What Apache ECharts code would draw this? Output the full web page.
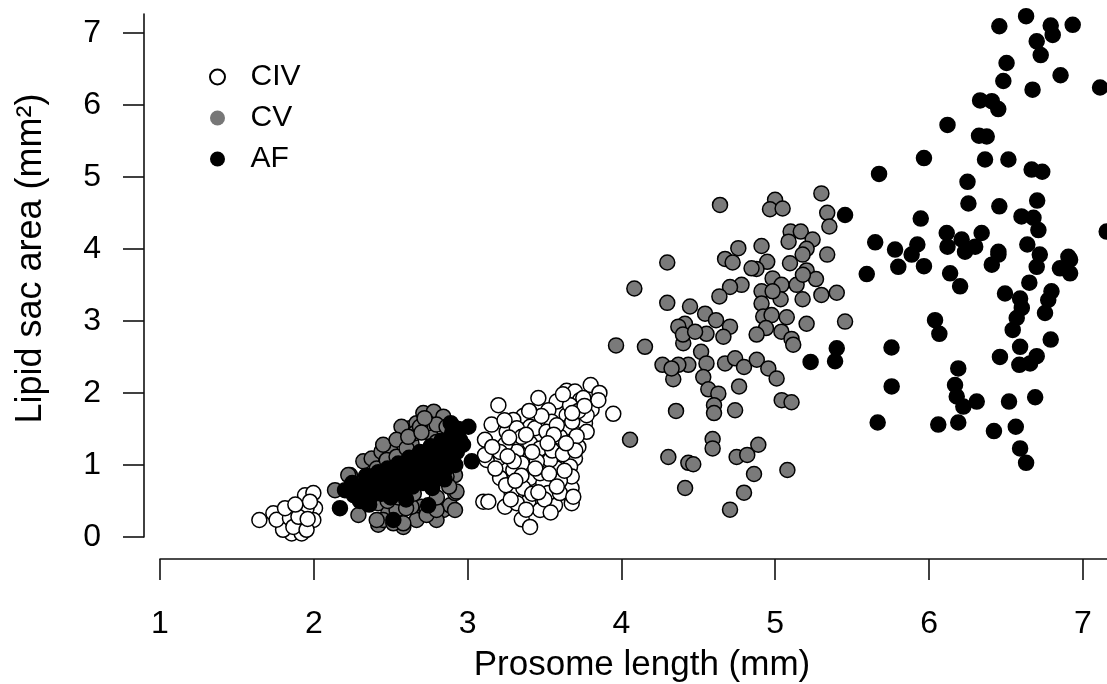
<!DOCTYPE html>
<html>
<head>
<meta charset="utf-8">
<script src="https://cdn.jsdelivr.net/npm/echarts@6/dist/echarts.min.js"></script>
<style>
html,body{margin:0;padding:0;background:#fff;}
#chart{width:1107px;height:684px;}
</style>
</head>
<body>
<div id="chart"></div>
<script>
// ---- data (prosome length mm, lipid sac area mm^2) ----
const xTicks = [1, 2, 3, 4, 5, 6, 7];
const yTicks = [0, 1, 2, 3, 4, 5, 6, 7];
const seriesNames = ['CIV', 'CV', 'AF'];

const civData = [
  // small CIV cluster
  [1.646,0.236],[1.737,0.33],[1.791,0.21],[1.824,0.33],[1.867,0.365],[1.943,0.58],[1.997,0.61],[2.008,0.40],
  [1.997,0.236],[1.921,0.19],[1.856,0.05],[1.921,0.05],[1.80,0.10],[1.758,0.24],[1.921,0.35],[1.953,0.40],
  [1.845,0.26],[1.867,0.14],[1.953,0.10],[1.975,0.49],[1.813,0.40],[1.90,0.28],[1.88,0.45],[1.96,0.25],
  // large CIV cluster
  [3.947,1.71],[3.644,2.03],[3.698,2.02],[3.80,2.11],[3.857,2.0],[3.806,1.77],[3.731,1.90],[3.46,1.93],
  [3.579,1.88],[3.20,1.83],[3.525,1.76],[3.644,1.69],[3.763,1.58],[3.362,1.68],[3.297,1.625],[3.156,1.56],
  [3.633,1.51],[3.547,1.60],[3.254,1.46],[3.406,1.53],[3.471,1.35],[3.579,1.30],[3.406,1.30],[3.72,1.25],
  [3.113,1.35],[3.319,1.185],[3.243,1.28],[3.20,1.09],[3.124,1.07],[3.406,1.09],[3.503,1.12],[3.698,1.09],
  [3.666,0.98],[3.579,0.95],[3.297,0.93],[3.406,0.82],[3.211,0.82],[3.492,0.745],[3.676,0.68],[3.286,0.61],
  [3.395,0.49],[3.677,0.47],[3.102,0.49],[3.568,0.44],[3.352,0.245],[3.406,0.14],[3.471,0.375],[3.362,0.68],
  [3.243,0.42],[3.525,0.61],[3.60,0.61],[3.32,1.51],[3.774,1.46],[3.709,1.40],[3.471,1.23],[3.536,1.07],
  [3.352,1.02],[3.211,1.18],[3.113,1.14],[3.677,0.84],[3.471,0.885],[3.687,0.56],[3.32,0.47],[3.438,1.51],
  [3.752,1.93],[3.666,1.83],[3.774,1.69],[3.60,1.39],[3.513,1.46],[3.352,1.39],[3.55,1.20],[3.62,1.15],
  [3.45,1.05],[3.30,1.05],[3.25,0.72],[3.42,0.60],[3.50,0.52],[3.60,0.78],[3.38,1.42],[3.48,1.68],
  [3.58,1.55],[3.68,1.60],[3.72,1.75],[3.85,1.90],[3.62,1.98],[3.135,0.49],[3.16,1.25],[3.27,1.38],
  [3.18,0.95],[3.26,1.12],[3.35,0.85],[3.44,0.95],[3.53,0.88],[3.63,0.92],[3.70,1.20],[3.56,1.42],
  [3.42,1.18],[3.31,0.78],[3.46,0.62],[3.58,0.70],[3.64,1.30],[3.76,1.82],[3.68,1.72],[3.52,1.30],
  [3.24,1.62],[3.40,1.75],[3.28,0.52],[3.54,0.34],[3.38,0.38]
];

const cvData = [
  // dense cluster
  [2.138,0.65],[2.235,0.86],[2.29,0.305],[2.322,1.05],[2.376,1.09],[2.44,1.185],[2.495,1.23],[2.409,0.95],
  [2.365,0.84],[2.419,0.47],[2.419,0.17],[2.484,0.33],[2.582,0.14],[2.582,1.39],[2.625,1.51],[2.668,1.58],
  [2.635,1.30],[2.712,1.72],[2.78,1.74],[2.842,1.67],[2.755,1.44],[2.70,0.42],[2.755,0.305],[2.842,0.375],
  [2.886,0.44],[2.918,0.61],[2.918,0.86],[2.668,0.236],[2.635,0.42],[2.538,0.375],[2.474,1.07],[2.538,1.115],
  [2.57,1.53],[2.744,1.58],[2.798,1.56],[2.863,1.53],[2.863,0.84],[2.451,0.236],[2.517,0.19],[2.798,0.236],
  [2.733,0.375],[2.657,1.44],[2.798,1.32],[2.842,1.185],[2.874,1.0],[2.387,0.675],[2.333,0.56],[2.311,0.745],
  [2.451,1.28],[2.538,1.35],[2.603,1.23],[2.907,1.53],[2.69,1.53],[2.614,1.39],[2.224,0.86],[2.928,0.63],
  [2.918,0.375],[2.409,0.236],[2.582,0.19],[2.733,0.305],[2.798,0.375],[2.55,0.55],[2.65,0.60],[2.80,0.55],
  [2.48,0.50],[2.88,0.70],[2.60,0.40],[2.72,1.65],[2.70,1.45],
  // spread cluster
  [4.641,4.61],[4.999,4.68],[4.966,4.55],[5.048,4.56],[5.30,4.77],[5.338,4.50],[5.352,4.31],[5.10,4.24],
  [5.166,4.24],[5.243,4.13],[5.087,4.10],[5.204,4.0],[5.178,3.92],[5.338,3.92],[4.76,4.01],[4.674,3.86],
  [4.723,3.81],[4.911,4.04],[4.948,3.82],[4.878,3.72],[4.846,3.73],[5.096,3.80],[5.204,3.70],[4.983,3.59],
  [5.041,3.50],[5.139,3.50],[5.265,3.58],[5.30,3.36],[5.40,3.39],[5.178,3.30],[5.035,3.30],[4.911,3.41],
  [4.911,3.24],[4.781,3.50],[4.706,3.47],[4.637,3.34],[4.298,3.81],[4.084,3.45],[4.298,3.25],[4.446,3.20],
  [4.544,3.10],[4.615,3.01],[4.706,2.92],[4.663,2.78],[4.553,2.82],[4.413,2.96],[4.37,2.92],[4.402,2.69],
  [4.922,3.06],[4.976,3.08],[5.075,3.05],[4.94,2.90],[5.04,2.85],[4.879,2.81],[5.106,2.75],[5.117,2.67],
  [5.204,2.96],[5.454,2.99],[4.518,2.57],[4.553,2.41],[4.435,2.39],[4.37,2.39],[4.267,2.39],[4.337,2.19],
  [4.532,2.22],[4.565,2.05],[4.63,1.99],[4.602,1.83],[4.602,1.72],[4.674,2.41],[4.739,2.48],[4.797,2.36],
  [4.88,2.46],[4.955,2.34],[5.009,2.20],[4.765,2.09],[4.739,1.76],[5.042,1.90],[5.106,1.87],[3.965,2.66],
  [4.153,2.64],[4.355,1.75],[4.056,1.35],[4.305,1.11],[4.435,1.03],[4.467,1.01],[4.593,1.36],[4.593,1.23],
  [4.749,1.11],[4.818,1.14],[4.89,1.28],[4.862,0.875],[5.079,0.93],[4.414,0.68],[4.797,0.615],[4.706,0.38],
  [4.40,2.81],[5.18,3.64],[4.983,3.41],[4.479,2.85],[4.326,2.34]
];

const afData = [
  // dense cluster
  [2.17,0.40],[2.203,0.65],[2.26,0.58],[2.25,0.75],[2.30,0.50],[2.32,0.68],[2.34,0.85],[2.37,0.56],
  [2.40,0.72],[2.42,0.90],[2.44,0.60],[2.46,0.78],[2.48,0.95],[2.50,0.55],[2.52,0.70],[2.54,0.88],
  [2.55,1.02],[2.57,0.62],[2.59,0.80],[2.61,0.96],[2.62,1.10],[2.64,0.70],[2.66,0.86],[2.68,1.02],
  [2.69,1.18],[2.71,0.75],[2.73,0.92],[2.74,1.08],[2.76,1.26],[2.77,0.68],[2.79,0.85],[2.80,1.00],
  [2.81,1.16],[2.83,1.34],[2.85,0.80],[2.86,0.95],[2.87,1.12],[2.88,1.28],[2.90,1.45],[2.92,1.00],
  [2.93,1.18],[2.95,1.35],[2.97,1.28],[3.005,1.53],[3.027,1.05],[2.517,0.236],[2.744,0.44],[2.60,0.52],
  [2.36,0.45],[2.89,1.58],[2.94,1.50],
  // spread cluster
  [6.457,7.09],[6.631,7.23],[6.791,7.10],[6.804,6.97],[6.934,7.11],[6.70,6.88],[6.726,6.69],[6.504,6.58],
  [6.483,6.33],[6.673,6.21],[6.855,6.41],[7.112,6.24],[6.332,6.06],[6.408,6.05],[6.45,5.94],[6.12,5.72],
  [6.325,5.57],[6.375,5.56],[5.967,5.26],[6.364,5.24],[6.516,5.24],[6.667,5.10],[6.736,5.07],[5.675,5.04],
  [6.25,4.93],[6.256,4.63],[6.457,4.59],[6.703,4.67],[5.454,4.47],[5.946,4.42],[6.601,4.45],[6.679,4.43],
  [6.711,4.26],[7.155,4.24],[5.65,4.09],[5.779,3.99],[5.924,4.06],[6.115,4.22],[6.12,4.03],[6.212,4.13],
  [6.342,4.22],[6.30,4.03],[6.451,3.96],[6.639,4.06],[6.72,3.92],[6.906,3.89],[5.80,3.75],[5.887,3.92],
  [5.967,3.76],[5.595,3.65],[6.137,3.66],[6.202,3.48],[6.234,3.96],[6.408,3.78],[6.451,3.92],[6.70,3.75],
  [6.851,3.73],[6.917,3.85],[6.917,3.66],[6.652,3.53],[6.494,3.38],[6.592,3.31],[6.603,3.18],[6.57,3.04],
  [6.544,2.875],[6.796,3.41],[6.775,3.29],[6.754,3.11],[6.791,2.74],[6.039,3.01],[6.067,2.82],[5.756,2.63],
  [5.40,2.62],[5.389,2.44],[6.461,2.50],[6.592,2.64],[6.587,2.39],[6.657,2.41],[6.70,2.51],[6.19,2.34],
  [6.169,2.11],[6.18,1.95],[6.223,1.81],[6.31,1.88],[5.757,2.09],[6.52,1.88],[6.69,1.94],[5.666,1.59],
  [6.06,1.56],[6.19,1.59],[6.422,1.47],[6.564,1.53],[6.592,1.23],[6.631,1.03],[5.23,2.43]
];

// ---- chart ----
const FONT = '"Liberation Sans", Arial, Helvetica, sans-serif';
const AXIS_COLOR = '#111';
const chart = echarts.init(document.getElementById('chart'), null, {renderer: 'canvas'});

const pointStyle = (fill) => ({color: fill, borderColor: '#000', borderWidth: 1.5, opacity: 1});

const option = {
  animation: false,
  backgroundColor: '#fff',
  textStyle: {fontFamily: FONT},
  grid: {left: 160, right: 0, top: 14, bottom: 147, containLabel: false, outerBoundsMode: 'none'},
  legend: {
    orient: 'vertical',
    left: 204,
    top: 57,
    itemWidth: 50,
    itemHeight: 15,
    itemGap: 11,
    selectedMode: false,
    textStyle: {fontSize: 30, color: '#000', fontFamily: FONT, lineHeight: 30, padding: [0, 0, 0, 3]},
    data: [
      {name: seriesNames[0], icon: 'circle', itemStyle: {color: '#fff', borderColor: '#000', borderWidth: 2}},
      {name: seriesNames[1], icon: 'circle', itemStyle: {color: '#777777', borderWidth: 0}},
      {name: seriesNames[2], icon: 'circle', itemStyle: {color: '#000', borderWidth: 0}}
    ]
  },
  xAxis: {
    type: 'value',
    min: 1,
    max: 7.157,
    interval: 1,
    position: 'bottom',
    offset: 22,
    axisLine: {show: true, onZero: false, lineStyle: {color: AXIS_COLOR, width: 1.6}},
    axisTick: {show: true, length: 21, customValues: xTicks, lineStyle: {color: AXIS_COLOR, width: 1.6}},
    axisLabel: {customValues: xTicks, margin: 49, fontSize: 32, color: '#000', fontFamily: FONT},
    splitLine: {show: false},
    name: 'Prosome length (mm)',
    nameLocation: 'middle',
    nameGap: 89,
    nameTextStyle: {fontSize: 35, color: '#000', fontFamily: FONT, padding: [0, 0, 0, 17]}
  },
  yAxis: {
    type: 'value',
    min: 0,
    max: 7.26,
    interval: 1,
    position: 'left',
    offset: 16,
    axisLine: {show: true, onZero: false, lineStyle: {color: AXIS_COLOR, width: 1.6}},
    axisTick: {show: true, length: 21, customValues: yTicks, lineStyle: {color: AXIS_COLOR, width: 1.6}},
    axisLabel: {customValues: yTicks, margin: 43, fontSize: 32, color: '#000', fontFamily: FONT},
    splitLine: {show: false},
    name: 'Lipid sac area (mm²)',
    nameLocation: 'middle',
    nameGap: 95,
    nameTextStyle: {fontSize: 36, color: '#000', fontFamily: FONT, padding: [0, 0, 0, 34]}
  },
  series: [
    {name: seriesNames[0], type: 'scatter', symbol: 'circle', symbolSize: 15, data: civData, itemStyle: pointStyle('#ffffff'), z: 2},
    {name: seriesNames[1], type: 'scatter', symbol: 'circle', symbolSize: 15, data: cvData, itemStyle: pointStyle('#7a7a7a'), z: 3},
    {name: seriesNames[2], type: 'scatter', symbol: 'circle', symbolSize: 15, data: afData, itemStyle: pointStyle('#000000'), z: 4}
  ]
};
chart.setOption(option);
</script>
</body>
</html>
